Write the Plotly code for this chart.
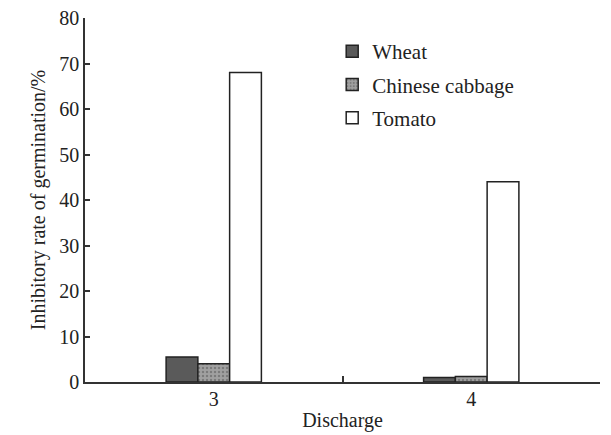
import plotly.graph_objects as go

categories = ["3", "4"]
wheat = [5.5, 1.0]
cabbage = [4.0, 1.2]
tomato = [68.0, 44.0]
y_ticks = [0, 10, 20, 30, 40, 50, 60, 70, 80]

FAM = "Times New Roman, Liberation Serif, serif"
TXT = dict(family=FAM, size=20, color="#222")
LEG = dict(family=FAM, size=21, color="#222")

fig = go.Figure()
fig.add_bar(name="Wheat", x=categories, y=wheat, legendgroup="a",
            marker=dict(color="#5a5a5a", line=dict(color="#222", width=1.5)))
fig.add_bar(name="Chinese cabbage", x=categories, y=cabbage, legendgroup="b",
            marker=dict(color="#a0a0a0", line=dict(color="#222", width=1.5),
                        pattern=dict(shape=".", fgcolor="#555", size=4, solidity=0.3)))
fig.add_bar(name="Tomato", x=categories, y=tomato, legendgroup="c",
            marker=dict(color="white", line=dict(color="#222", width=1.5)))

fig.update_layout(
    width=603, height=427,
    margin=dict(l=77, r=11, t=10, b=53),
    paper_bgcolor="white", plot_bgcolor="white",
    barmode="group", bargap=0.63, bargroupgap=0,
    font=TXT,
    showlegend=True,
    legend=dict(x=0.48, y=0.964, xanchor="left", yanchor="top",
                bgcolor="rgba(0,0,0,0)", font=LEG,
                itemwidth=30, tracegroupgap=3),
    xaxis=dict(showline=True, linecolor="#333", linewidth=1.5, automargin=False,
               ticks="inside", tickson="boundaries", ticklen=6, tickcolor="#333", tickwidth=1.5,
               tickfont=TXT, ticklabelstandoff=-2,
               title=dict(text="Discharge", standoff=4, font=TXT),
               showgrid=False),
    yaxis=dict(range=[0, 80], tickvals=y_ticks, showline=True, linecolor="#333", linewidth=1.5,
               automargin=False, ticklabeloverflow="allow",
               ticks="inside", ticklen=5, tickcolor="#333", tickwidth=1.5,
               tickfont=TXT,
               title=dict(text="Inhibitory rate of germination/%", standoff=8, font=TXT),
               showgrid=False, zeroline=False),
)
fig.write_html("out.html")
